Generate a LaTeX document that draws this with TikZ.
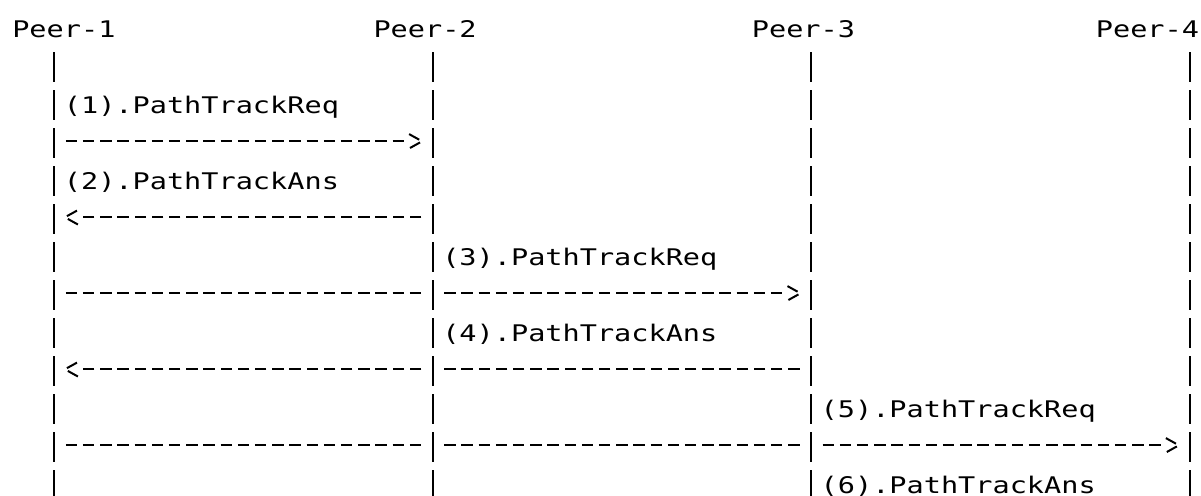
\documentclass[tikz,border=0pt]{standalone}
\usepackage{fontspec}
\setmonofont[FakeStretch=1.247]{DejaVu Sans Mono}

% a '>' drawn like the typed character, with the shaft stopping short of it
\pgfdeclarearrow{
  name = Chevron,
  setup code = {
    \pgfarrowssettipend{0pt}
    \pgfarrowssetlineend{-12.9pt}
    \pgfarrowssetbackend{-12.9pt}
    \pgfarrowssetvisualbackend{-12.9pt}
    \pgfarrowsupperhullpoint{-11.8pt}{3.6pt}
    \pgfarrowsupperhullpoint{-5.3pt}{0pt}
  },
  drawing code = {
    \pgfpathmoveto{\pgfqpoint{-11.8pt}{3.6pt}}
    \pgfpathlineto{\pgfqpoint{-5.3pt}{0pt}}
    \pgfpathlineto{\pgfqpoint{-11.8pt}{-3.6pt}}
    \pgfusepathqstroke
  }
}

\begin{document}
\begin{tikzpicture}[x=8.6pt,y=19pt,line width=1pt,
    mono/.style={font=\ttfamily\fontsize{11.45}{13}\selectfont,
      anchor=base west,inner sep=0pt},
    lifeline/.style={dash pattern=on 15pt off 4pt},
    msg/.style={dash pattern=on 5.75pt off 2.85pt,shorten <=5.725pt},
    ask/.style={msg,-Chevron},
    plain/.style={msg,shorten >=5.725pt}]
  \useasboundingbox (-5.65pt,18.65pt) rectangle (594.85pt,-229.35pt);

  \node[mono] (peer1) at (0,0)  {Peer-1};
  \node[mono] (peer2) at (21,0) {Peer-2};
  \node[mono] (peer3) at (43,0) {Peer-3};
  \node[mono] (peer4) at (63,0) {Peer-4};

  % lifelines, and the points where messages meet them
  \foreach \p/\x in {1/2.5,2/24.5,3/46.5,4/68.5}
  {
    \coordinate (top\p) at (\x,-0.395);
    \coordinate (bot\p) at (\x,-13);
    \draw[lifeline] (top\p) -- (bot\p);
    \foreach \r in {3,5,7,9,11}
      \coordinate (m\p-\r) at (\x,-\r+0.263);
  }

  \node[mono] (req1) at (3,-2)   {(1).PathTrackReq};
  \node[mono] (ans2) at (3,-4)   {(2).PathTrackAns};
  \node[mono] (req3) at (25,-6)  {(3).PathTrackReq};
  \node[mono] (ans4) at (25,-8)  {(4).PathTrackAns};
  \node[mono] (req5) at (47,-10) {(5).PathTrackReq};
  \node[mono] (ans6) at (47,-12) {(6).PathTrackAns};

  \draw[ask]   (m1-3) -- (m2-3);
  \draw[ask]   (m2-5) -- (m1-5);
  \draw[plain] (m1-7) -- (m2-7);
  \draw[ask]   (m2-7) -- (m3-7);
  \draw[plain] (m3-9) -- (m2-9);
  \draw[ask]   (m2-9) -- (m1-9);
  \draw[plain] (m1-11) -- (m2-11);
  \draw[plain] (m2-11) -- (m3-11);
  \draw[ask]   (m3-11) -- (m4-11);
\end{tikzpicture}
\end{document}
